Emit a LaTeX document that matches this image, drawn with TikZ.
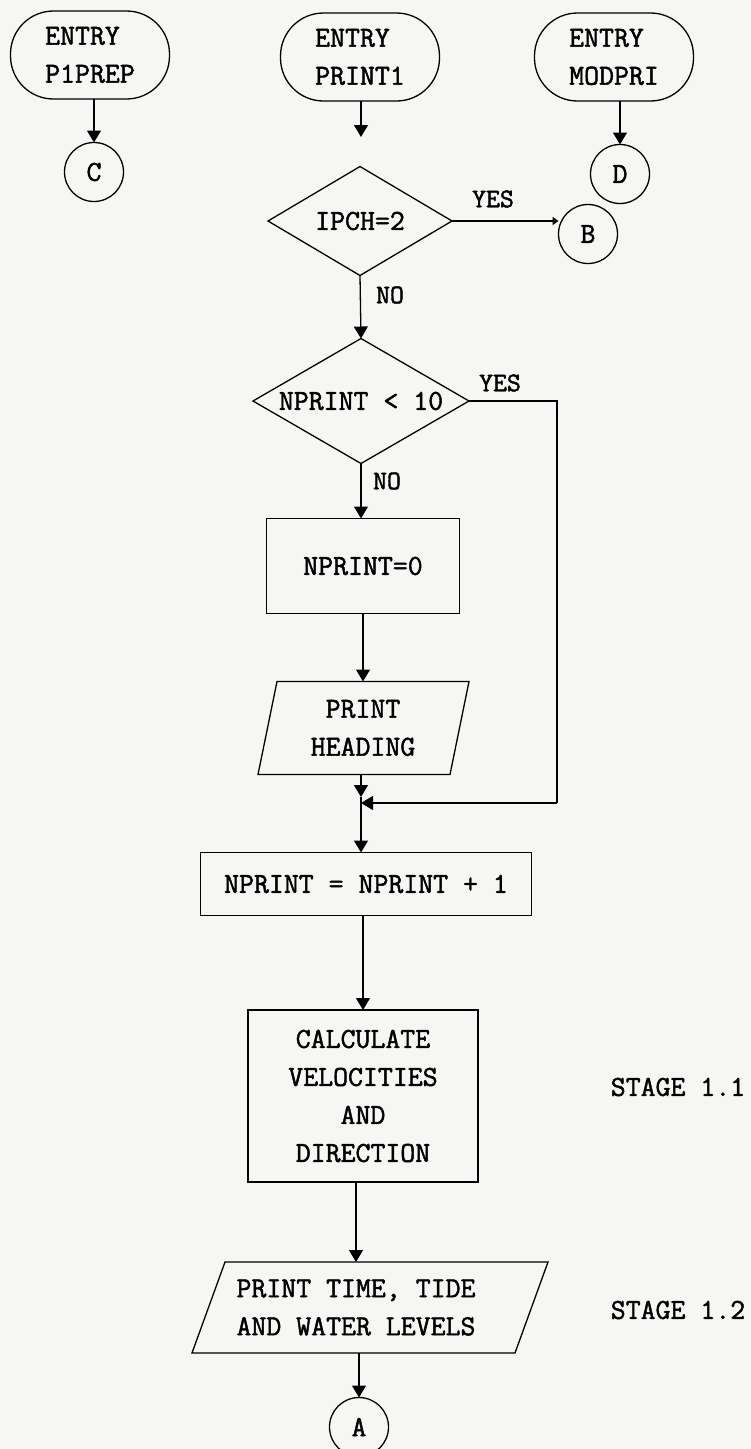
\documentclass[tikz,border=0pt]{standalone}
\usepackage{fontspec}
\newfontfamily\tw[FakeBold=1.6]{Latin Modern Mono}
\usetikzlibrary{arrows.meta,calc}
\definecolor{paper}{RGB}{246,246,244}
\begin{document}
\begin{tikzpicture}[x=1pt,y=-1pt,
  font={\tw\fontsize{29}{38}\selectfont},
  line width=1.3pt,
  every node/.style={inner sep=0pt, outer sep=0pt},
  term/.style={draw, rectangle, rounded corners=43pt, minimum width=159pt, minimum height=88pt, align=left},
  conn/.style={draw, circle, minimum size=59pt},
  decbox/.style={rectangle},
  proc/.style={draw, rectangle, align=center},
  io/.style={rectangle, align=left},
  lab/.style={font={\tw\fontsize{27}{34}\selectfont}},
  arr/.style={-{Triangle[width=14pt,length=12pt]}}]
\fill[paper] (0,0) rectangle (751,1449);
\useasboundingbox (0,0) rectangle (751,1449);

% entries
\node[term] (e1) at (90,55) {ENTRY\\P1PREP};
\node[term] (e2) at (360,57) {ENTRY\\PRINT1};
\node[term] (e3) at (614,57) {ENTRY\\MODPRI};
\node[conn] (C) at (94,172) {C};
\node[conn] (D) at (620,174) {D};
\draw[arr] (C.north |- e1.south) -- (C.north);
\draw[arr] (D.north |- e3.south) -- (D.north);
\coordinate (a1) at (361,137);
\draw[arr] (a1 |- e2.south) -- (a1);

% first decision
\node[decbox, minimum width=184pt, minimum height=109pt] (d1) at (360,221) {IPCH=2};
\draw (d1.north) -- (d1.east) -- (d1.south) -- (d1.west) -- cycle;
\node[conn] (B) at (588,234) {B};
\draw[line width=2.6pt, -{Triangle[width=8pt,length=6pt]}] (d1.east) -- (d1.east -| B.west);
\node[lab] (y1) at (493,199) {YES};
\node[lab] (n1) at (390,295) {NO};

% second decision
\node[decbox, minimum width=216pt, minimum height=125pt] (d2) at (361,401) {NPRINT < 10};
\draw (d2.north) -- (d2.east) -- (d2.south) -- (d2.west) -- cycle;
\draw[arr] (d1.south) -- (d2.north);
\node[lab] (y2) at (500,383) {YES};
\node[lab] (n2) at (387,481) {NO};

\node[proc, minimum width=193pt, minimum height=95pt] (b0) at (363,566) {NPRINT=0};
\draw[arr] (d2.south) -- (d2.south |- b0.north);

% print heading (parallelogram)
\node[io, minimum width=191pt, minimum height=93pt, align=center] (ph) at (363,728) {PRINT\\HEADING};
\draw ($(ph.center)+(-86,-46.5)$) -- ($(ph.center)+(106,-46.5)$) -- ($(ph.center)+(87,46.5)$) -- ($(ph.center)+(-105,46.5)$) -- cycle;
\draw[arr] (b0.south) -- (b0.south |- ph.north);

% merge
\node[proc, minimum width=331pt, minimum height=63pt] (b1) at (366,884) {NPRINT = NPRINT + 1};
\coordinate (m1) at (361,797);
\coordinate (m) at (361,803);
\coordinate (r1) at (557,402);
\draw (d2.east) -- (d2.east -| r1) -- (r1 |- m) coordinate (r2);
\draw[arr] (r2) -- (m);
\draw[arr] (m1 |- ph.south) -- (m1);
\draw[arr] (m1) -- (m1 |- b1.north);

\node[proc, minimum width=230pt, minimum height=172pt] (calc) at (363,1096) {CALCULATE\\VELOCITIES\\AND\\DIRECTION};
\draw[arr] (b1.south -| calc.north) -- (calc.north);

% print time (parallelogram)
\node[io, minimum width=238pt, minimum height=91pt] (pt) at (356,1307.5) {PRINT TIME, TIDE\\AND WATER LEVELS};
\draw ($(pt.center)+(-131,-45.5)$) -- ($(pt.center)+(192,-45.5)$) -- ($(pt.center)+(159,45.5)$) -- ($(pt.center)+(-164,45.5)$) -- cycle;
\draw[arr] (calc.south -| pt.north) -- (pt.north);

\node[conn] (A) at (359,1427) {A};
\draw[arr] (pt.south -| A.north) -- (A.north);

\node (s1) at (678,1087) {STAGE 1.1};
\node (s2) at (678,1310) {STAGE 1.2};
\end{tikzpicture}
\end{document}
